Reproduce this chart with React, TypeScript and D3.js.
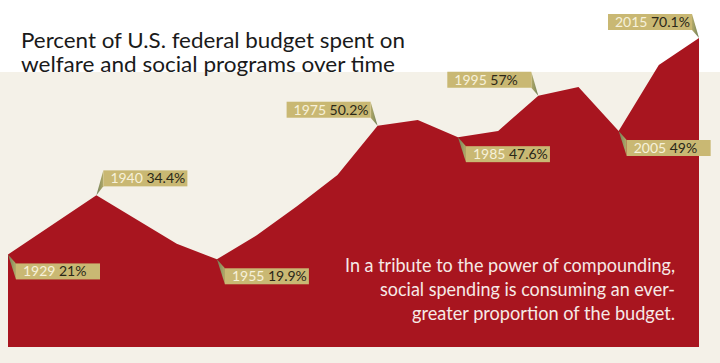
import React, { useEffect, useRef } from 'react';
import * as d3 from 'd3';

// percent of federal budget
const years = [1929, 1940, 1950, 1955, 1960, 1965, 1970, 1975, 1980, 1985, 1990, 1995, 2000, 2005, 2010, 2015];
const values = [21, 34.4, 23.4, 19.9, 25.4, 32, 39, 50.2, 51.5, 47.6, 49, 57, 59, 49, 64, 70.1];

// callouts
const labelYears = [1929, 1940, 1955, 1975, 1985, 1995, 2005, 2015];
const labelTexts = ['21%', '34.4%', '19.9%', '50.2%', '47.6%', '57%', '49%', '70.1%'];
const labelSides = ['below', 'above-right', 'below', 'above-left', 'below', 'above-left', 'below', 'above-left'];

const titleLines = ['Percent of U.S. federal budget spent on', 'welfare and social programs over time'];
const noteLines = [
  'In a tribute to the power of compounding,',
  'social spending is consuming an ever-',
  'greater proportion of the budget.'
];

const App = () => {
  const ref = useRef<SVGSVGElement>(null);

  useEffect(() => {
    const width = 720;
    const height = 363;
    const font = 'Lato, "Open Sans", sans-serif';

    const svg = d3.select(ref.current);
    svg.selectAll('*').remove();
    svg.attr('width', width).attr('height', height);

    const x = d3.scaleLinear().domain([d3.min(years)!, d3.max(years)!]).range([8, 699]);
    const y = d3.scaleLinear().domain([0, d3.max(values)!]).range([347, 38]);

    const data = years.map((yr, i) => ({ yr, v: values[i] }));

    const defs = svg.append('defs');
    const gl = defs.append('linearGradient').attr('id', 'tailL').attr('x1', 0).attr('x2', 1);
    gl.append('stop').attr('offset', '0%').attr('stop-color', '#6f7f58');
    gl.append('stop').attr('offset', '100%').attr('stop-color', '#b4ab6a');
    const gr = defs.append('linearGradient').attr('id', 'tailR').attr('x1', 1).attr('x2', 0);
    gr.append('stop').attr('offset', '0%').attr('stop-color', '#6f7f58');
    gr.append('stop').attr('offset', '100%').attr('stop-color', '#b4ab6a');

    svg.append('rect').attr('width', width).attr('height', height).attr('fill', '#ffffff');
    svg.append('rect').attr('y', 72).attr('width', width).attr('height', height - 72).attr('fill', '#f4f1e8');

    const area = d3.area<{ yr: number; v: number }>()
      .x(d => x(d.yr))
      .y0(y(0))
      .y1(d => y(d.v));

    svg.append('path').datum(data).attr('d', area).attr('fill', '#a8151f');

    // title
    svg.append('g')
      .selectAll('text')
      .data(titleLines)
      .join('text')
      .attr('x', 21)
      .attr('y', (d, i) => 47.5 + i * 24.5)
      .attr('textLength', (d, i) => (i === 0 ? 384 : 374))
      .attr('lengthAdjust', 'spacingAndGlyphs')
      .attr('font-family', font)
      .attr('font-size', 20.4)
      .attr('fill', '#1a1a1a')
      .text(d => d);

    // note
    svg.append('g')
      .selectAll('text')
      .data(noteLines)
      .join('text')
      .attr('x', 675)
      .attr('y', (d, i) => 272 + i * 24)
      .attr('text-anchor', 'end')
      .attr('textLength', (d, i) => [330, 295, 263][i])
      .attr('lengthAdjust', 'spacingAndGlyphs')
      .attr('font-family', font)
      .attr('font-size', 19.5)
      .attr('fill', '#f6e9e6')
      .text(d => d);

    // callouts
    const boxW = 84;
    const boxH = 16;
    const labels = labelYears.map((yr, i) => {
      const v = values[years.indexOf(yr)];
      const px = x(yr);
      const py = y(v);
      const side = labelSides[i];
      let bx: number;
      let by: number;
      if (side === 'below') {
        bx = px + 8;
        by = py + 9;
      } else if (side === 'above-right') {
        bx = px + 7;
        by = py - 25;
      } else {
        bx = px - 7 - boxW;
        by = py - 24;
      }
      return { yr, text: labelTexts[i], px, py, bx, by, side };
    });

    const lg = svg.append('g').selectAll('g').data(labels).join('g');

    lg.append('path')
      .attr('d', d => {
        const ex = d.side === 'above-left' ? d.bx + boxW : d.bx;
        return `M${d.px},${d.py}L${ex},${d.by}L${ex},${d.by + boxH}Z`;
      })
      .attr('fill', d => (d.side === 'above-left' ? 'url(#tailR)' : 'url(#tailL)'));

    lg.append('rect')
      .attr('x', d => d.bx)
      .attr('y', d => d.by)
      .attr('width', boxW)
      .attr('height', boxH)
      .attr('fill', '#c9b873');

    lg.append('text')
      .attr('x', d => d.bx + 7)
      .attr('y', d => d.by + 13)
      .attr('font-family', font)
      .attr('font-size', 14)
      .attr('fill', '#f7f1da')
      .text(d => d.yr);

    lg.append('text')
      .attr('x', d => d.bx + 43)
      .attr('y', d => d.by + 13)
      .attr('font-family', font)
      .attr('font-size', 14)
      .attr('fill', '#2a2718')
      .text(d => d.text);
  }, []);

  return <svg ref={ref} style={{ position: 'absolute', left: 0, top: 0 }}></svg>;
};

export default App;
